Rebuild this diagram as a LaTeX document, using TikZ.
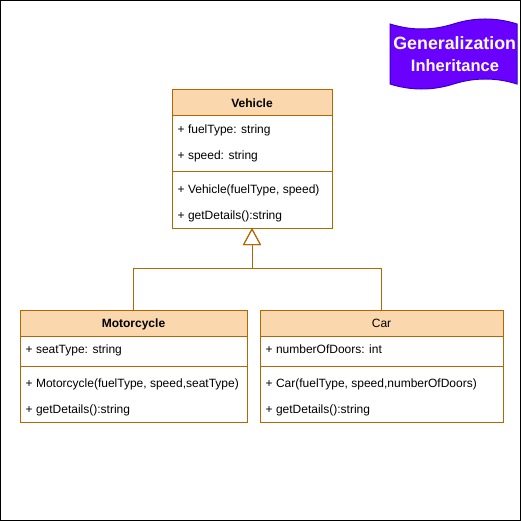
\documentclass[tikz,border=0pt]{standalone}
\usepackage{fontspec}
\setmainfont{Liberation Sans}
\usetikzlibrary{arrows.meta}
\definecolor{umlline}{HTML}{B46504}
\definecolor{umlhead}{HTML}{FAD7AC}
\definecolor{bannerfill}{HTML}{6A00FF}
\definecolor{bannerline}{HTML}{3700CC}
\tikzset{
  hdr/.style={draw=umlline, fill=umlhead, line width=1pt, minimum height=26pt,
    anchor=north west, inner sep=0pt, outer sep=0pt, text height=8.6pt, text depth=0pt,
    font=\bfseries\fontsize{12}{14}\selectfont},
  hdrplain/.style={hdr, font=\fontsize{12}{14}\selectfont},
  bodybox/.style={draw=umlline, fill=white, line width=1pt, anchor=north west,
    inner sep=0pt, outer sep=0pt},
  member/.style={anchor=base west, inner sep=0pt, font=\fontsize{12}{14}\selectfont},
  sepline/.style={draw=umlline, line width=1pt},
  inh/.style={draw=umlline, line width=1pt,
    -{Triangle[open, width=18pt, length=17pt]}},
  bannertext/.style={anchor=base, inner sep=0pt, text=white},
}
\begin{document}
\begin{tikzpicture}[x=1pt,y=-1pt]
\useasboundingbox (0,0) rectangle (521,521);
\draw[line width=1pt] (0.5,0.5) rectangle (520.5,520.5);

% banner
\draw[fill=bannerfill, draw=bannerline, line width=1pt]
  (390,24) .. controls (411.17,30.67) and (432.33,30.67) .. (453.5,24)
  .. controls (474.67,17.33) and (495.83,17.33) .. (517,24)
  -- (517,84)
  .. controls (495.83,77.33) and (474.67,77.33) .. (453.5,84)
  .. controls (432.33,90.67) and (411.17,90.67) .. (390,84) -- cycle;
\node[bannertext, font=\bfseries\fontsize{17.8}{20}\selectfont] (gen) at (454.7,49.5) {Generalization};
\node[bannertext, font=\bfseries\fontsize{16.5}{20}\selectfont] (inhtxt) at (455,71.5) {Inheritance};

% Vehicle
\node[hdr, minimum width=160pt] (vh) at (172,90) {Vehicle};
\node[bodybox, minimum width=160pt, minimum height=112pt] (vb) at (172,116) {};
\draw[sepline] (vb.west |- 0,172) -- (vb.east |- 0,172);
\node[member] (v1) at (177.5,133.8) {+ fuelType: string};
\node[member] (v2) at (177.5,159.8) {+ speed: string};
\node[member] (v3) at (177.5,193.8) {+ Vehicle(fuelType, speed)};
\node[member] (v4) at (177.5,219.8) {+ getDetails():string};

% Motorcycle
\node[hdr, minimum width=227pt] (mh) at (20,310) {Motorcycle};
\node[bodybox, minimum width=227pt, minimum height=86pt] (mb) at (20,336) {};
\draw[sepline] (mb.west |- 0,366) -- (mb.east |- 0,366);
\node[member] (m1) at (25.5,353.8) {+ seatType: string};
\node[member] (m2) at (25.5,387.8) {+ Motorcycle(fuelType, speed,seatType)};
\node[member] (m3) at (25.5,413.8) {+ getDetails():string};

% Car
\node[hdrplain, minimum width=243pt] (ch) at (260,310) {Car};
\node[bodybox, minimum width=243pt, minimum height=86pt] (cb) at (260,336) {};
\draw[sepline] (cb.west |- 0,366) -- (cb.east |- 0,366);
\node[member] (c1) at (265.5,353.8) {+ numberOfDoors: int};
\node[member] (c2) at (265.5,387.8) {+ Car(fuelType, speed,numberOfDoors)};
\node[member] (c3) at (265.5,413.8) {+ getDetails():string};

% generalization connectors
\coordinate (junc) at (vb.south |- 0,268.5);
\draw[inh] (mh.north) |- (junc) -- (vb.south);
\draw[inh] (ch.north) |- (junc) -- (vb.south);
\end{tikzpicture}
\end{document}
